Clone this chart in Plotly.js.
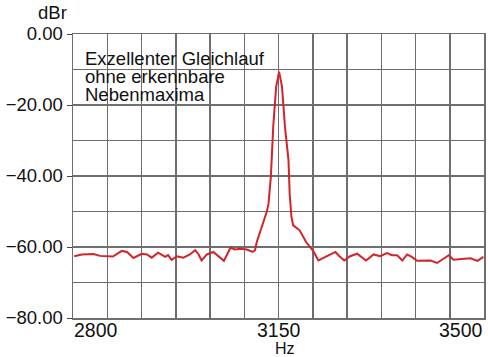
<!DOCTYPE html>
<html>
<head>
<meta charset="utf-8">
<script src="https://cdn.plot.ly/plotly-3.0.1.min.js"></script>
<style>html,body{margin:0;padding:0;background:#fff;}#chart{width:488px;height:357px;}</style>
</head>
<body>
<div id="chart"></div>
<script>
// Frequency (Hz) and level (dBr)
const freqHz = [2802, 2815, 2835, 2846, 2868, 2883, 2892, 2903, 2917, 2926, 2934, 2945, 2957, 2962, 2968, 2977, 2988, 2999, 3008, 3014, 3019, 3028, 3039, 3048, 3057, 3068, 3076, 3085, 3096, 3106, 3110, 3113, 3122, 3124, 3130, 3133, 3135, 3137, 3141, 3146, 3151, 3156, 3161, 3167, 3169, 3172, 3175, 3186, 3197, 3209, 3218, 3224, 3235, 3247, 3252, 3262, 3272, 3284, 3299, 3312, 3323, 3335, 3343, 3352, 3361, 3369, 3377, 3386, 3409, 3420, 3431, 3440, 3448, 3463, 3477, 3489, 3499];
const levelDb = [-62.6, -62.1, -62.0, -62.5, -62.7, -61.1, -61.4, -63.1, -61.9, -62.1, -63.0, -61.6, -62.8, -62.3, -63.6, -62.6, -63.0, -62.1, -60.9, -62.1, -63.8, -62.1, -61.4, -62.6, -63.9, -60.2, -60.7, -60.5, -60.7, -61.4, -60.9, -58.6, -54.4, -53.4, -50.1, -47.8, -44.9, -40.2, -26.1, -14.9, -10.6, -14.9, -26.1, -35.5, -45.0, -51.5, -53.9, -55.3, -58.6, -61.1, -63.8, -63.3, -62.6, -61.4, -62.3, -63.8, -62.6, -61.9, -63.8, -62.1, -62.6, -61.7, -62.3, -62.3, -63.8, -62.1, -62.8, -63.9, -63.8, -64.5, -63.3, -62.3, -63.6, -63.4, -63.2, -63.9, -62.8];

const xTickVals = [2800, 3150, 3500];
const xTickText = ['2800', '3150', '3500'];
const yTickVals = [-80, -60, -40, -20, 0];
const noteLines = ['Exzellenter Gleichlauf', 'ohne erkennbare', 'Nebenmaxima'];
const yTitle = 'dBr';
const xTitle = 'Hz';

const font = 'Liberation Sans, Arial, sans-serif';
const gridColor = '#6e6e6e';

const annotations = [];
const anchors = ['left', 'center', 'right'];
xTickVals.forEach((v, i) => {
  annotations.push({x: v, xref: 'x', y: -0.043, yref: 'paper', text: xTickText[i],
    showarrow: false, xanchor: anchors[i], yanchor: 'middle', borderpad: 0,
    font: {family: font, size: 19.5, color: '#111'}});
});
noteLines.forEach((t, i) => {
  annotations.push({x: 0.027, xref: 'paper', y: 0.914 - i * 0.0635, yref: 'paper', text: t,
    showarrow: false, xanchor: 'left', yanchor: 'middle', borderpad: 0,
    font: {family: font, size: 18.5, color: '#111'}});
});
annotations.push({x: -0.011, xref: 'paper', y: 1.077, yref: 'paper', text: yTitle,
  showarrow: false, xanchor: 'right', yanchor: 'middle', borderpad: 0,
  font: {family: font, size: 18.5, color: '#111'}});
annotations.push({x: 0.516, xref: 'paper', y: -0.109, yref: 'paper', text: xTitle,
  showarrow: false, xanchor: 'center', yanchor: 'middle', borderpad: 0,
  font: {family: font, size: 16, color: '#111'}});

const data = [{
  x: freqHz, y: levelDb, type: 'scatter', mode: 'lines',
  line: {color: '#d3232b', width: 2}, hoverinfo: 'skip'
}];

const layout = {
  width: 488, height: 357,
  margin: {l: 73, r: 4, t: 34, b: 39, pad: 0},
  paper_bgcolor: '#fff', plot_bgcolor: '#fff',
  showlegend: false,
  font: {family: font, size: 18.5, color: '#111'},
  xaxis: {
    range: [2800, 3500], tick0: 2800, dtick: 700 / 12, tickmode: 'linear',
    showticklabels: false, ticks: '', showgrid: true, gridcolor: gridColor, gridwidth: 1.5,
    showline: true, linecolor: gridColor, linewidth: 1.5, mirror: true, zeroline: false
  },
  yaxis: {
    range: [-80, 0], tickmode: 'array', tickvals: yTickVals, tickformat: '.2f',
    ticks: 'outside', ticklen: 5, tickcolor: '#444', tickwidth: 1,
    tickfont: {family: font, size: 18.5, color: '#111'},
    showgrid: true, gridcolor: gridColor, gridwidth: 1.5,
    minor: {dtick: 10, tick0: 0, showgrid: true, gridcolor: gridColor, gridwidth: 1.5, ticks: ''},
    showline: true, linecolor: gridColor, linewidth: 1.5, mirror: true, zeroline: false
  },
  annotations: annotations
};

Plotly.newPlot('chart', data, layout, {staticPlot: true, displayModeBar: false});
</script>
</body>
</html>
